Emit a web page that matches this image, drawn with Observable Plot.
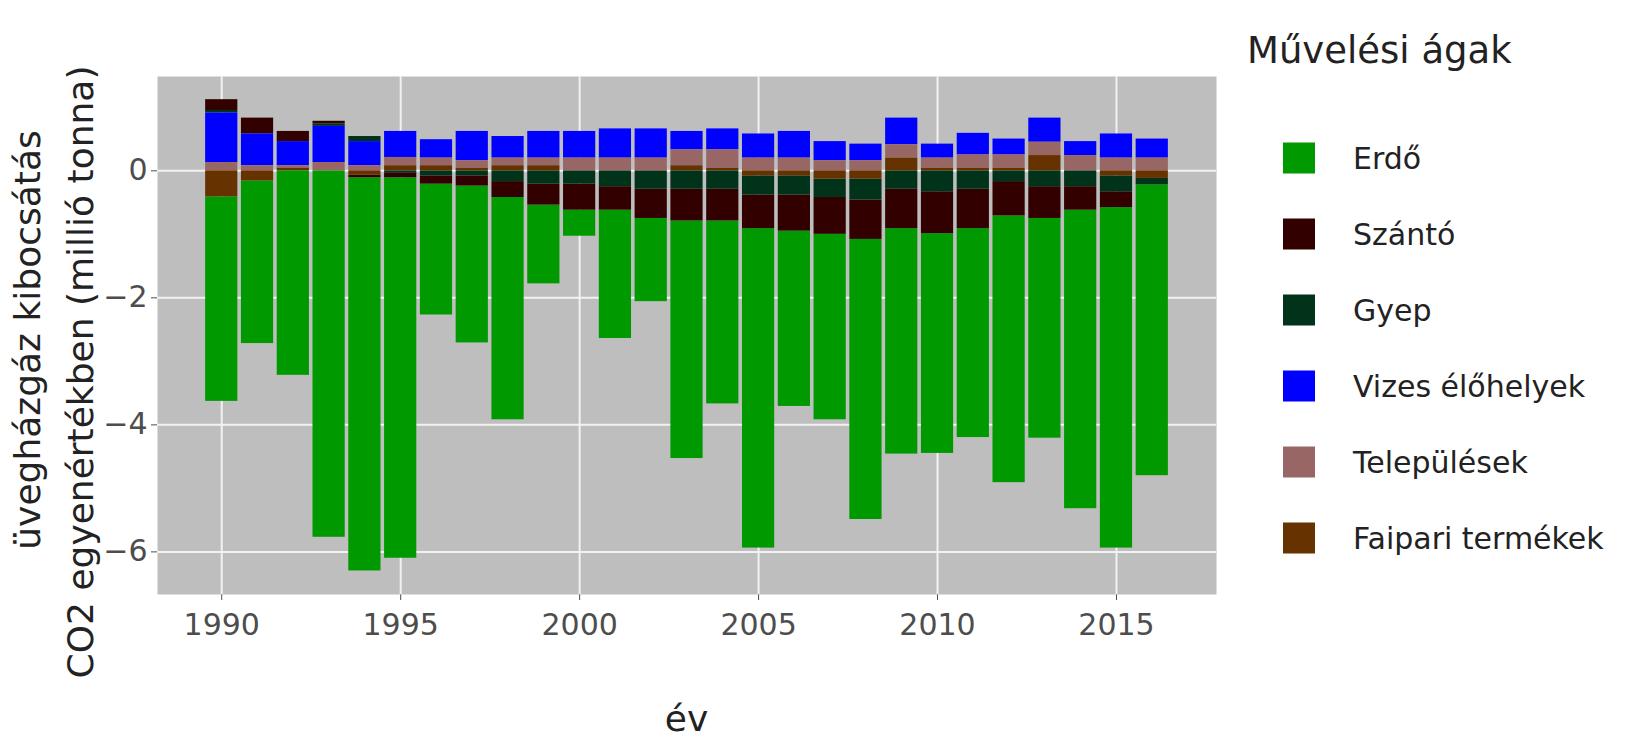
<!DOCTYPE html>
<html>
<head>
<meta charset="utf-8">
<script src="https://cdn.jsdelivr.net/npm/d3@7"></script>
<script src="https://cdn.jsdelivr.net/npm/@observablehq/plot@0.6"></script>
<style>
  html, body { margin: 0; padding: 0; background: #ffffff; }
  #chart { width: 1633px; height: 738px; }
</style>
</head>
<body>
<div id="chart"></div>
<script>
const years = [1990,1991,1992,1993,1994,1995,1996,1997,1998,1999,2000,2001,2002,2003,2004,2005,2006,2007,2008,2009,2010,2011,2012,2013,2014,2015,2016];
const categories = ["Erdő","Szántó","Gyep","Vizes élőhelyek","Települések","Faipari termékek"];
const colors = ["#009900","#330000","#00331a","#0000ff","#996666","#663300"];

const erdo      = [-3.22,-2.56,-3.22,-5.77,-6.19,-5.99,-2.06,-2.47,-3.50,-1.24,-0.41,-2.02,-1.31,-3.74,-2.88,-5.03,-2.76,-2.92,-4.41,-3.55,-3.46,-3.29,-4.20,-3.46,-4.70,-5.36,-4.58];
const szanto    = [0.17,0.25,0.16,0.04,-0.04,-0.07,-0.13,-0.16,-0.25,-0.33,-0.41,-0.37,-0.46,-0.50,-0.50,-0.53,-0.57,-0.58,-0.62,-0.62,-0.66,-0.62,-0.54,-0.50,-0.37,-0.25,0.00];
const gyep      = [0.04,0.00,0.00,0.04,0.08,-0.04,-0.08,-0.08,-0.17,-0.21,-0.21,-0.25,-0.29,-0.29,-0.29,-0.30,-0.30,-0.29,-0.33,-0.29,-0.33,-0.29,-0.17,-0.25,-0.25,-0.25,-0.10];
const vizes     = [0.78,0.50,0.38,0.57,0.38,0.41,0.29,0.46,0.34,0.42,0.42,0.46,0.46,0.29,0.33,0.38,0.42,0.30,0.26,0.42,0.22,0.34,0.25,0.38,0.22,0.38,0.30];
const telepules = [0.13,0.08,0.04,0.13,0.08,0.13,0.12,0.12,0.12,0.12,0.20,0.20,0.20,0.25,0.29,0.20,0.20,0.16,0.16,0.21,0.16,0.21,0.21,0.21,0.24,0.20,0.20];
const faipari   = [-0.41,-0.16,0.04,0.00,-0.07,0.08,0.08,0.04,0.08,0.08,0.00,0.00,0.00,0.08,0.04,-0.08,-0.08,-0.13,-0.13,0.20,0.04,0.04,0.04,0.24,0.00,-0.08,-0.12];

const xTicks = [1990,1995,2000,2005,2010,2015];
const yTicks = [0,-2,-4,-6];
const legendTitle = "Művelési ágak";
const xTitle = "év";
const yTitleLines = ["üvegházgáz kibocsátás", "CO2 egyenértékben (millió tonna)"];

const series = [erdo, szanto, gyep, vizes, telepules, faipari];
const rows = years.flatMap((yr, i) => categories.map((c, j) => ({year: yr, type: c, value: series[j][i]})));
const stackOrder = categories.slice().reverse();

const svg = Plot.plot({
  width: 1633,
  height: 738,
  marginLeft: 157,
  marginRight: 417,
  marginTop: 76,
  marginBottom: 144,
  style: {fontFamily: "'DejaVu Sans', sans-serif", fontSize: "30px", color: "#4d4d4d", background: "#ffffff", overflow: "visible"},
  x: {domain: [1988.205, 2017.795], ticks: xTicks, tickFormat: d => String(d), tickSize: 6, tickPadding: 13, label: null},
  y: {domain: [-6.671, 1.485], ticks: yTicks, tickSize: 6, tickPadding: 4, label: null},
  color: {domain: categories, range: colors},
  marks: [
    Plot.frame({fill: "#bebebe", stroke: null}),
    Plot.ruleY(yTicks, {stroke: "#f2f2f2", strokeWidth: 2}),
    Plot.ruleX(xTicks, {stroke: "#f2f2f2", strokeWidth: 2}),
    Plot.rect(rows, Plot.stackY({
      x: "year",
      x1: d => d.year - 0.45,
      x2: d => d.year + 0.45,
      y: "value",
      fill: "type",
      order: stackOrder
    }))
  ]
});

const root = d3.select(svg);
const font = "'DejaVu Sans', sans-serif";

// axis titles
root.append("text")
  .attr("x", (157 + 1216) / 2).attr("y", 731)
  .attr("text-anchor", "middle")
  .attr("font-family", font).attr("font-size", 36).attr("fill", "#222")
  .text(xTitle);

const yCenters = [[40, 340], [93, 372]];
yTitleLines.forEach((t, i) => {
  root.append("text")
    .attr("transform", `translate(${yCenters[i][0]},${yCenters[i][1]}) rotate(-90)`)
    .attr("text-anchor", "middle")
    .attr("font-family", font).attr("font-size", 36).attr("fill", "#222")
    .text(t);
});

// legend
const lg = root.append("g").attr("text-anchor", "start");
lg.append("text")
  .attr("x", 1247).attr("y", 63)
  .attr("text-anchor", "start")
  .attr("font-family", font).attr("font-size", 37).attr("fill", "#222")
  .text(legendTitle);
categories.forEach((c, i) => {
  const yc = 158 + 76 * i;
  lg.append("rect")
    .attr("x", 1283).attr("y", yc - 15.5).attr("width", 32).attr("height", 31)
    .attr("fill", colors[i]);
  lg.append("text")
    .attr("x", 1353).attr("y", yc).attr("dy", "0.36em")
    .attr("text-anchor", "start")
    .attr("font-family", font).attr("font-size", 30).attr("fill", "#222")
    .text(c);
});

document.getElementById("chart").appendChild(svg);
</script>
</body>
</html>
